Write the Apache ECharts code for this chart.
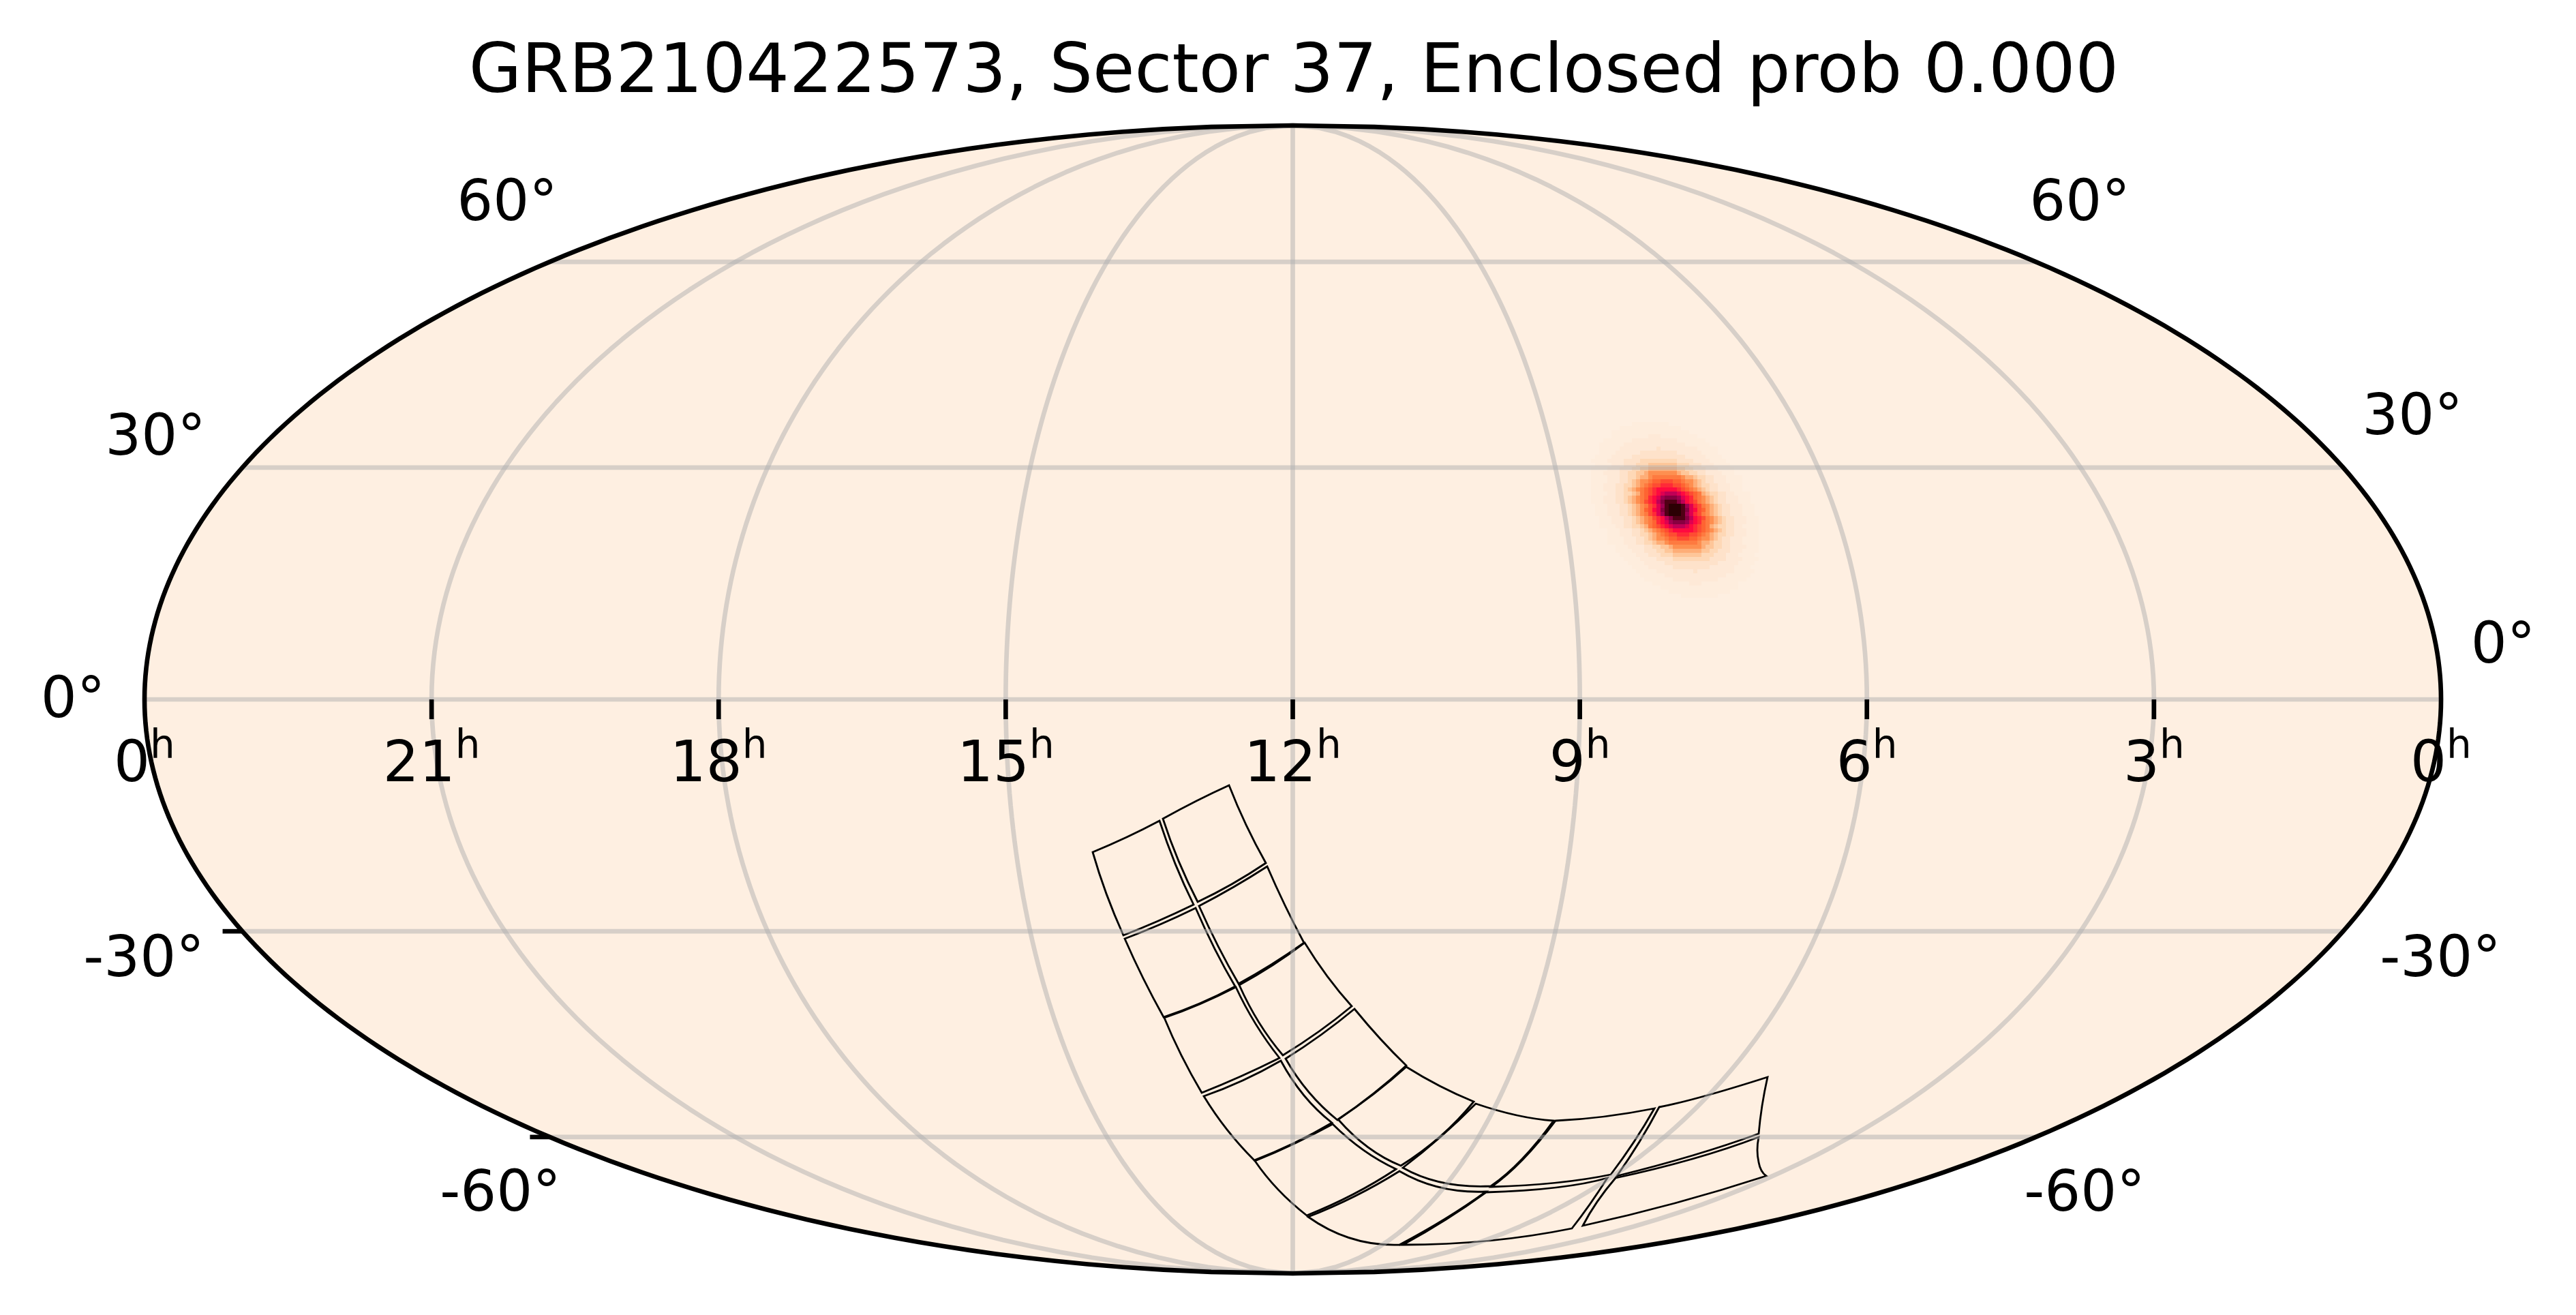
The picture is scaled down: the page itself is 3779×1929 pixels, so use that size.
<!DOCTYPE html>
<html><head><meta charset="utf-8">
<style>html,body{margin:0;padding:0;background:#fff}#c{width:3779px;height:1929px}</style>
<script src="https://cdn.jsdelivr.net/npm/echarts@6/dist/echarts.min.js"></script>
</head><body><div id="c"></div>
<script>
const titleText = 'GRB210422573, Sector 37, Enclosed prob 0.000';
const raHours = [21, 18, 15, 12, 9, 6, 3];
const raLabelHours = [24, 21, 18, 15, 12, 9, 6, 3, 0];
const raLabelTexts = ['0', '21', '18', '15', '12', '9', '6', '3', '0'];
const decGrid = [60, 30, 0, -30, -60];
const decTicksLeft = [-30, -60];
const decLabelTexts = ['60°', '30°', '0°', '-30°', '-60°', '60°', '30°', '0°', '-30°', '-60°'];

// Probability blob: one string per row of the image, levels in base 36
const blobStarts = [14,11,9,9,7,6,6,6,5,4,5,4,4,4,4,4,4,4,4,4,5,5,5,6,6,6,8,8,8,8,10,10,11,12,13,14,15,16,17,19,21,23,26];
const blobRows = [
"111111111",
"111111111111111",
"1111111111111111111",
"111111111222111111111",
"1111111222222222221111111",
"111111222222222222222111111",
"11111222222222322222222211111",
"11112222223333333332222221111",
"1111222223333333333333222221111",
"111122223333444444444333322221111",
"111122233344455555554443332221111",
"11112223334455666666655443332221111",
"11122223344556777777765544332222111",
"1111222334456678888888766544332221111",
"11112223345677899aaa99877654332221111",
"111222334456789aabbbaa987654433222111",
"11122233456789abcccccba98765433222111",
"11112233445689abcdeeedcba98654433221111",
"11122233456789bcdfgggfdcb98765433222111",
"1112223345678abcegiiigecba8765433222111",
"1112223345678abdfijjjifdba8765433222111",
"1112223345679acdgijjjigdca9765433222111",
"1112223345678abdfijjjifdba8765433222111",
"1112223345678abcegiiigecba8765433222111",
"11122233456789bcdfgggfdcb98765433222111",
"11112233445689abcdeeedcba98654433221111",
"11122233456789abcccccba98765433222111",
"111222334456789aabbbaa987654433222111",
"11112223345677899aaa99877654332221111",
"1111222334456678888888766544332221111",
"11122223344556777777765544332222111",
"11112223334455666666655443332221111",
"111122233344455555554443332221111",
"111122223333444444444333322221111",
"1111222223333333333333222221111",
"11112222223333333332222221111",
"11111222222222322222222211111",
"111111222222222222222111111",
"1111111222222222221111111",
"111111111222111111111",
"1111111111111111111",
"111111111111111",
"111111111"
];
const blobColours = ['#feefe1','#feeddd','#fee9d7','#fee2ca','#fed8b6','#fec699','#feae78','#fe8f50','#fe7a40','#fe6432','#fe4c32','#ff2a38','#ff0a40','#e00050','#c00056','#a00050','#880040','#6f0030','#500015','#2c0004'];

// TESS CCD outlines on the map plane: corner, edge-midpoint, corner, edge-midpoint ...
const ccd01 = [[-302,-218],[-252,-196],[-204,-172],[-181,-235],[-154,-295],[-206,-319],[-257,-340],[-282,-279]];
const ccd02 = [[-199,-169],[-150,-143],[-102,-120],[-77,-178],[-48,-234],[-98,-265],[-148,-291],[-176,-231]];
const ccd03 = [[-255,-345],[-203,-324],[-151,-300],[-123,-360],[-93,-415],[-145,-440],[-198,-460],[-228,-403]];
const ccd04 = [[-146,-297],[-95,-269],[-46,-239],[-20,-296],[8,-351],[-40,-383],[-88,-411],[-118,-356]];
const ccd05 = [[-197,-461],[-145,-441],[-92,-416],[-63,-470],[-28,-520],[-85,-547],[-142,-571],[-172,-516]];
const ccd06 = [[-87,-413],[-38,-384],[9,-351],[42,-400],[78,-444],[30,-481],[-23,-516],[-58,-468]];
const ccd07 = [[-139,-576],[-82,-553],[-26,-524],[8,-575],[49,-615],[-7,-645],[-65,-670],[-105,-625]];
const ccd08 = [[-19,-521],[33,-486],[82,-448],[120,-492],[158,-531],[110,-572],[57,-611],[15,-570]];
const ccd09 = [[-64,-671],[-7,-646],[50,-617],[95,-655],[143,-683],[80,-720],[12,-751],[-30,-713]];
const ccd10 = [[58,-610],[110,-573],[158,-533],[207,-561],[257,-584],[208,-635],[150,-678],[102,-651]];
const ccd11 = [[14,-753],[82,-723],[148,-686],[208,-710],[275,-716],[215,-756],[148,-794],[78,-785]];
const ccd12 = [[153,-681],[208,-636],[260,-587],[320,-604],[374,-612],[328,-668],[282,-708],[212,-703]];
const ccd13 = [[283,-709],[329,-669],[377,-612],[448,-606],[522,-594],[492,-643],[458,-691],[378,-703]];
const ccd14 = [[153,-794],[216,-757],[275,-717],[378,-710],[453,-696],[427,-735],[401,-770],[280,-788]];
const ccd15 = [[467,-693],[500,-643],[529,-592],[595,-576],[688,-548],[680,-590],[675,-631],[578,-663]];
const ccd16 = [[465,-696],[578,-668],[675,-636],[673,-655],[675,-673],[679,-685],[686,-693],[552,-733],[417,-766],[438,-731]];
const ccdOutlines = [ccd01,ccd02,ccd03,ccd04,ccd05,ccd06,ccd07,ccd08,ccd09,ccd10,ccd11,ccd12,ccd13,ccd14,ccd15,ccd16];

// Layout: the map plane is measured in pixels from a fixed origin
const W = 1684.5, H = 842, CX = -8.5, CY = 6;
const FONT = 'DejaVu Sans';
const GRID_STYLE = {color:'rgba(176,176,176,0.5)', width:6.67};
const latLabelAnchors = [[-1161,731],[-1677,387],[-1798,2],[-1694,-378],[-1171,-722],[1146,731],[1634,417],[1767,82],[1675,-378],[1153,-722]];

function theta(lat){
  const p = lat*Math.PI/180;
  if (Math.abs(lat) >= 90) return p;
  let t = p;
  for (let i=0;i<50;i++){ t -= (2*t+Math.sin(2*t)-Math.PI*Math.sin(p))/(2+2*Math.cos(2*t)); }
  return t;
}
function moll(hours, dec){
  const t = theta(dec);
  return [CX+W*((12-hours)/12)*Math.cos(t), CY+H*Math.sin(t)];
}
const sweep = n => Array.from({length:2*n+1},(_,i)=>-90+i*90/n);

const blobData = [];
blobRows.forEach((row,r)=>{
  for (let i=0;i<row.length;i++){
    const lv = parseInt(row[i],36);
    if (lv>0) blobData.push([405+6*(blobStarts[r]+i), 287+126-6*r, lv]);
  }
});

const lines = [];
decGrid.forEach(d=>{
  const pts = [-12,-9,-6,-3,0,3,6,9,12].map(o=>moll(12+o,d));
  lines.push({type:'line',z:5,silent:true,symbol:'none',animation:false,clip:false,lineStyle:GRID_STYLE,data:pts});
});
raHours.forEach(h=>{
  const pts = sweep(60).map(d=>moll(h,d));
  lines.push({type:'line',z:5,silent:true,symbol:'none',animation:false,clip:false,lineStyle:GRID_STYLE,data:pts});
});

const boundary = sweep(90).map(d=>moll(24,d)).concat(sweep(90).reverse().map(d=>moll(0,d)));

const tickData = raHours.map(h=>[...moll(h,0),0,29]).concat(decTicksLeft.map(d=>[...moll(24,d),-29,0]));

function polyPts(api,pts){ return pts.map(p=>api.coord(p)); }

const option = {
  animation:false,
  backgroundColor:'#ffffff',
  title:{text:titleText,left:1893,top:54,textAlign:'center',textStyle:{fontFamily:FONT,fontSize:100,fontWeight:'normal',color:'#000'}},
  grid:{left:212,top:184,width:3369,height:1684,containLabel:false},
  xAxis:{type:'value',min:-1693,max:1676,show:false},
  yAxis:{type:'value',min:-836,max:848,show:false},
  visualMap:{show:false,type:'continuous',min:0,max:19,dimension:2,seriesIndex:1,inRange:{color:blobColours}},
  series:[
    {type:'custom',z:1,silent:true,clip:false,data:[[0,0]],renderItem:(p,api)=>({type:'polygon',shape:{points:polyPts(api,boundary)},style:{fill:'#feefe1',stroke:null}})},
    {type:'custom',z:2,silent:true,clip:false,data:blobData,encode:{x:0,y:1},renderItem:(p,api)=>{
      const a=api.coord([api.value(0),api.value(1)]);
      return {type:'rect',shape:{x:a[0],y:a[1],width:6,height:6},style:{fill:api.visual('color'),stroke:null}};
    }},
    {type:'custom',z:3,silent:true,clip:false,data:ccdOutlines.map(c=>c[0]),encode:{x:0,y:1},renderItem:(p,api)=>{
      const c=polyPts(api,ccdOutlines[p.dataIndex]);
      let d='M'+c[0][0]+' '+c[0][1];
      for(let i=0;i<c.length;i+=2){
        const a=c[i],m=c[i+1],b=c[(i+2)%c.length];
        const cx=2*m[0]-(a[0]+b[0])/2, cy=2*m[1]-(a[1]+b[1])/2;
        d+=' Q'+cx+' '+cy+' '+b[0]+' '+b[1];
      }
      return {type:'path',shape:{pathData:d+' Z'},style:{fill:null,stroke:'#000',lineWidth:2.8,lineJoin:'miter'}};
    }},
    ...lines,
    {type:'custom',z:6,silent:true,clip:false,data:[[0,0]],renderItem:(p,api)=>({type:'polygon',shape:{points:polyPts(api,boundary)},style:{fill:null,stroke:'#000',lineWidth:6.67}})},
    {type:'custom',z:6,silent:true,clip:false,data:tickData,encode:{x:0,y:1},renderItem:(p,api)=>{
      const a=api.coord([api.value(0),api.value(1)]);
      return {type:'line',shape:{x1:a[0],y1:a[1],x2:a[0]+api.value(2),y2:a[1]+api.value(3)},style:{stroke:'#000',lineWidth:6.67}};
    }},
    {type:'scatter',z:7,silent:true,symbolSize:0,clip:false,itemStyle:{opacity:1},
      data:raLabelHours.map(h=>moll(h,0)),
      label:{show:true,position:[0,42],align:'center',verticalAlign:'top',opacity:1,
        formatter:p=>'{a|'+raLabelTexts[p.dataIndex]+'}{h|h}',
        rich:{a:{fontFamily:FONT,fontSize:83.3,color:'#000',lineHeight:112},h:{fontFamily:FONT,fontSize:58,color:'#000',verticalAlign:'top',lineHeight:70}}}},
    {type:'scatter',z:7,silent:true,symbolSize:0,clip:false,itemStyle:{opacity:1},
      data:latLabelAnchors,
      label:{show:true,position:[0,0],align:'center',verticalAlign:'middle',opacity:1,fontFamily:FONT,fontSize:83.3,color:'#000',
        formatter:p=>decLabelTexts[p.dataIndex]}}
  ]
};
const chart = echarts.init(document.getElementById('c'));
chart.setOption(option);
</script></body></html>
